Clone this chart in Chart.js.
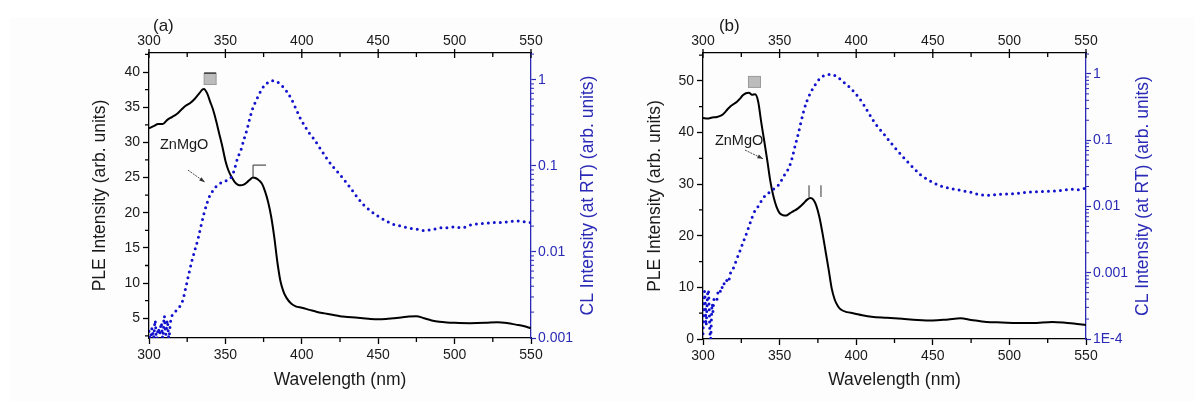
<!DOCTYPE html>
<html>
<head>
<meta charset="utf-8">
<script src="https://cdn.jsdelivr.net/npm/chart.js@4.4.0/dist/chart.umd.min.js"></script>
<style>
  html, body { margin: 0; padding: 0; background: #fff; }
  body { width: 1195px; height: 401px; position: relative; overflow: hidden; }
  #bg { position: absolute; left: 10px; top: 17px; right: 0; bottom: 0; background: #fdfdfd; }
  canvas { position: absolute; top: 0; }
  #chartA { left: 86px; }
  #chartB { left: 641px; }
</style>
</head>
<body>
<div id="bg"></div>
<canvas id="chartA" width="515" height="401"></canvas>
<canvas id="chartB" width="514" height="401"></canvas>
<script>
// shared wavelength axis
const wavelengthTicks = [300, 350, 400, 450, 500, 550]
const wavelengthMinor = [325, 375, 425, 475, 525]

// panel (a)
const pleWlA = [300, 303, 306, 309, 312, 315, 318, 321, 324, 327, 330, 333, 335, 336, 338, 340, 342, 344, 346, 348, 350, 352, 354, 356, 358, 360, 362, 364, 366, 368, 370, 372, 374, 376, 378, 380, 382, 384, 386, 388, 390, 393, 396, 400, 405, 410, 415, 420, 425, 430, 435, 440, 445, 450, 455, 460, 465, 470, 475, 480, 485, 490, 495, 500, 510, 520, 528, 535, 540, 545, 550]
const pleA = [32.0, 32.3, 32.6, 32.6, 33.2, 33.6, 34.0, 34.6, 35.2, 35.6, 36.2, 37.0, 37.5, 37.6, 37.0, 35.8, 34.6, 33.0, 31.2, 29.4, 27.4, 26.0, 25.1, 24.4, 24.0, 23.9, 24.0, 24.3, 24.7, 25.0, 24.9, 24.6, 24.1, 23.0, 21.5, 19.4, 16.5, 13.0, 10.3, 8.8, 7.9, 7.1, 6.7, 6.5, 6.2, 5.9, 5.7, 5.5, 5.3, 5.2, 5.1, 5.0, 4.9, 4.85, 4.9, 5.0, 5.1, 5.25, 5.3, 5.0, 4.7, 4.5, 4.4, 4.35, 4.3, 4.35, 4.45, 4.3, 4.1, 3.9, 3.6]
const clWlA = [300, 301, 302, 303, 304, 305, 306, 307, 308, 309, 310, 311, 312, 313, 314, 315, 316, 318, 320, 322, 324, 326, 328, 330, 332, 334, 336, 338, 340, 342, 344, 346, 348, 350, 352, 354, 356, 358, 360, 362, 364, 366, 368, 370, 372, 374, 376, 378, 380, 382, 384, 386, 388, 390, 393, 396, 399, 402, 405, 408, 412, 416, 420, 424, 428, 432, 436, 440, 445, 450, 455, 460, 465, 470, 475, 480, 485, 490, 495, 500, 505, 510, 515, 520, 525, 530, 535, 540, 545, 550]
const clA = [0.0012, 0.0009, 0.0013, 0.0010, 0.0016, 0.0009, 0.0013, 0.0011, 0.0015, 0.0010, 0.0018, 0.0011, 0.0016, 0.0010, 0.0015, 0.0018, 0.0019, 0.0021, 0.0023, 0.0027, 0.0038, 0.0055, 0.0078, 0.0105, 0.0140, 0.020, 0.028, 0.037, 0.046, 0.052, 0.058, 0.062, 0.065, 0.067, 0.070, 0.075, 0.092, 0.125, 0.15, 0.20, 0.26, 0.36, 0.475, 0.57, 0.68, 0.79, 0.88, 0.94, 0.98, 0.98, 0.95, 0.89, 0.82, 0.74, 0.61, 0.47, 0.36, 0.29, 0.24, 0.205, 0.16, 0.125, 0.100, 0.083, 0.068, 0.055, 0.044, 0.036, 0.030, 0.026, 0.023, 0.021, 0.020, 0.019, 0.0185, 0.0178, 0.0182, 0.0190, 0.0192, 0.0195, 0.0192, 0.0205, 0.0212, 0.0215, 0.022, 0.022, 0.0225, 0.023, 0.0225, 0.022]
const pleTicksA = [5, 10, 15, 20, 25, 30, 35, 40]
const pleMinorA = [2.5, 7.5, 12.5, 17.5, 22.5, 27.5, 32.5, 37.5, 42.5]
const clTicksA = [0.001, 0.01, 0.1, 1]
const clLabelsA = ['0.001', '0.01', '0.1', '1']

// panel (b)
const pleWlB = [300, 303, 306, 309, 312, 314, 316, 318, 320, 322, 324, 326, 328, 330, 332, 334, 336, 338, 340, 342, 344, 346, 348, 350, 352, 354, 356, 358, 360, 362, 364, 366, 368, 370, 372, 374, 376, 378, 380, 382, 384, 386, 388, 390, 394, 398, 404, 410, 420, 430, 440, 450, 460, 468, 475, 485, 495, 505, 515, 528, 535, 542, 550]
const pleB = [42.8, 42.7, 42.9, 43.0, 43.3, 43.8, 44.5, 45.1, 45.5, 45.9, 46.5, 47.2, 47.6, 47.7, 47.3, 47.4, 46.0, 42.0, 38.3, 34.5, 30.5, 27.6, 25.6, 24.4, 24.0, 23.9, 24.2, 24.6, 24.9, 25.3, 25.8, 26.4, 27.0, 27.3, 27.0, 25.8, 23.6, 20.5, 17.0, 13.5, 9.8, 7.6, 6.4, 5.7, 5.2, 5.0, 4.6, 4.3, 4.1, 3.9, 3.7, 3.6, 3.8, 4.0, 3.7, 3.3, 3.2, 3.1, 3.1, 3.3, 3.2, 3.0, 2.7]
const clWlB = [300, 300.5, 301, 301.5, 302, 302.5, 303, 303.5, 304, 304.5, 305, 305.5, 306, 306.5, 307, 308, 309, 310, 311, 312, 313, 314, 315, 316, 317, 318, 320, 322, 324, 326, 328, 330, 332, 334, 336, 338, 340, 342, 344, 346, 348, 350, 352, 354, 356, 358, 360, 362, 364, 366, 368, 370, 372, 374, 376, 378, 380, 382, 384, 386, 388, 390, 393, 396, 399, 402, 405, 408, 411, 414, 418, 422, 426, 430, 434, 438, 442, 446, 450, 455, 460, 465, 470, 475, 480, 485, 490, 495, 500, 505, 510, 515, 520, 525, 530, 535, 540, 545, 550]
const clB = [1.2e-4, 3.0e-4, 5.2e-4, 3.5e-4, 1.6e-4, 2.8e-4, 4.8e-4, 5.5e-4, 3.0e-4, 1.3e-4, 1.0e-4, 2.0e-4, 3.4e-4, 2.6e-4, 3.8e-4, 4.2e-4, 3.9e-4, 5.3e-4, 5.0e-4, 6.2e-4, 5.8e-4, 7.0e-4, 6.8e-4, 8.5e-4, 8.0e-4, 1.0e-3, 1.2e-3, 1.6e-3, 2.1e-3, 2.8e-3, 3.7e-3, 5.0e-3, 6.8e-3, 8.7e-3, 0.0100, 0.0120, 0.0140, 0.0155, 0.0168, 0.0182, 0.020, 0.022, 0.027, 0.032, 0.038, 0.052, 0.080, 0.12, 0.19, 0.29, 0.40, 0.51, 0.62, 0.73, 0.84, 0.92, 0.96, 0.98, 0.99, 0.95, 0.89, 0.82, 0.71, 0.62, 0.52, 0.43, 0.34, 0.26, 0.20, 0.16, 0.125, 0.095, 0.074, 0.058, 0.046, 0.037, 0.030, 0.026, 0.023, 0.0205, 0.019, 0.018, 0.0172, 0.0163, 0.0152, 0.0148, 0.0150, 0.0153, 0.0155, 0.0158, 0.0162, 0.0166, 0.0168, 0.0170, 0.0172, 0.0175, 0.0182, 0.0178, 0.0190]
const pleTicksB = [0, 10, 20, 30, 40, 50]
const pleMinorB = [5, 15, 25, 35, 45, 55]
const clTicksB = [1e-4, 0.001, 0.01, 0.1, 1]
const clLabelsB = ['1E-4', '0.001', '0.01', '0.1', '1']

const FONT = 'Arial, "Liberation Sans", sans-serif'
const BLUE = '#1212cc'
const AXIS_BLUE = '#2a2ab6'
const INK = '#1a1a1a'

function toXY(xs, ys) {
    return xs.map((x, i) => ({ x: x, y: ys[i] }))
}

function logMinor(min, max) {
    let out = []
    for (let d = min; d <= max; d *= 10) {
        for (let m = 2; m <= 9; m++) {
            if (m * d <= max) out.push(m * d)
        }
    }
    return out
}

// minor ticks, top-axis ticks, right title and the small annotations
function extrasPlugin(o) {
    return {
        id: 'extras',
        afterDraw(chart) {
            let ctx = chart.ctx
            let a = chart.chartArea
            let sx = chart.scales.x
            let sy = chart.scales.y
            let s2 = chart.scales.y2
            let px = v => sx.getPixelForValue(v)
            let py = v => sy.getPixelForValue(v)

            ctx.save()
            ctx.lineWidth = 1.3
            ctx.strokeStyle = '#000'
            ctx.beginPath()
            for (let v of wavelengthMinor) {
                ctx.moveTo(px(v), a.bottom); ctx.lineTo(px(v), a.bottom + 4)
                ctx.moveTo(px(v), a.top); ctx.lineTo(px(v), a.top + 4)
            }
            for (let v of wavelengthTicks) {
                ctx.moveTo(px(v), a.top - 4); ctx.lineTo(px(v), a.top + 5)
            }
            for (let v of o.pleMinor) {
                if (v > sy.max) continue
                ctx.moveTo(a.left, py(v)); ctx.lineTo(a.left - 4, py(v))
            }
            ctx.stroke()

            ctx.strokeStyle = AXIS_BLUE
            ctx.lineWidth = 1
            ctx.beginPath()
            for (let v of logMinor(o.clMin, o.clMax)) {
                let y = s2.getPixelForValue(v)
                ctx.moveTo(a.right, y); ctx.lineTo(a.right + 3, y)
            }
            ctx.stroke()

            // right axis title, reading bottom to top
            ctx.fillStyle = AXIS_BLUE
            ctx.font = '17.5px ' + FONT
            ctx.textAlign = 'center'
            ctx.textBaseline = 'middle'
            ctx.translate(a.right + 57, (a.top + a.bottom) / 2)
            ctx.rotate(-Math.PI / 2)
            ctx.fillText('CL Intensity (at RT) (arb. units)', 0, 0)
            ctx.restore()

            ctx.save()
            ctx.fillStyle = INK
            ctx.textAlign = 'left'
            ctx.textBaseline = 'middle'
            ctx.font = '17px ' + FONT
            ctx.fillText(o.tag.text, px(o.tag.x), py(o.tag.y))
            ctx.font = '14.5px ' + FONT
            ctx.fillText('ZnMgO', px(o.name.x), py(o.name.y))

            // grey square marker
            let cx = px(o.square.x), cy = py(o.square.y)
            ctx.fillStyle = '#bcbcbc'
            ctx.fillRect(cx - 6, cy - 5.5, 12, 11)
            ctx.strokeStyle = '#9a9a9a'
            ctx.lineWidth = 1
            ctx.strokeRect(cx - 6, cy - 5.5, 12, 11)
            if (o.square.bar) {
                ctx.strokeStyle = '#222'
                ctx.lineWidth = 1.3
                ctx.beginPath()
                ctx.moveTo(cx - 6, cy - 6); ctx.lineTo(cx + 6, cy - 6)
                ctx.stroke()
            }

            // bracket / tick marks
            ctx.strokeStyle = '#555'
            ctx.lineWidth = 1.2
            ctx.beginPath()
            for (let s of o.marks) {
                ctx.moveTo(px(s[0]), py(s[1]))
                ctx.lineTo(px(s[2]), py(s[3]))
            }
            ctx.stroke()

            // arrow
            let x1 = px(o.arrow[0]), y1 = py(o.arrow[1])
            let x2 = px(o.arrow[2]), y2 = py(o.arrow[3])
            let ang = Math.atan2(y2 - y1, x2 - x1)
            ctx.strokeStyle = '#333'
            ctx.fillStyle = '#333'
            ctx.lineWidth = 0.9
            ctx.setLineDash([2, 1])
            ctx.beginPath()
            ctx.moveTo(x1, y1); ctx.lineTo(x2, y2)
            ctx.stroke()
            ctx.setLineDash([])
            ctx.beginPath()
            ctx.moveTo(x2, y2)
            ctx.lineTo(x2 - 6 * Math.cos(ang - 0.35), y2 - 6 * Math.sin(ang - 0.35))
            ctx.lineTo(x2 - 6 * Math.cos(ang + 0.35), y2 - 6 * Math.sin(ang + 0.35))
            ctx.closePath()
            ctx.fill()
            ctx.restore()
        }
    }
}

function makePanel(canvas, o) {
    let tickFont = { family: FONT, size: 14 }
    let titleFont = { family: FONT, size: 17.5 }
    return new Chart(canvas, {
        type: 'line',
        data: {
            datasets: [{
                label: 'CL',
                data: toXY(o.clWl, o.cl),
                yAxisID: 'y2',
                order: 0,
                borderColor: BLUE,
                borderWidth: 3,
                borderDash: [0, 6],
                borderCapStyle: 'round',
                pointRadius: 0,
                cubicInterpolationMode: 'monotone'
            }, {
                label: 'PLE',
                data: toXY(o.pleWl, o.ple),
                yAxisID: 'y',
                order: 1,
                borderColor: '#000',
                borderWidth: 2,
                pointRadius: 0,
                cubicInterpolationMode: 'monotone'
            }]
        },
        options: {
            responsive: false,
            animation: false,
            layout: { padding: 0 },
            plugins: { legend: { display: false }, tooltip: { enabled: false } },
            scales: {
                x: {
                    type: 'linear', position: 'bottom', min: 300, max: 550,
                    afterBuildTicks: s => { s.ticks = wavelengthTicks.map(v => ({ value: v })) },
                    afterFit: s => { s.height = o.bottomH },
                    ticks: { font: tickFont, color: INK, padding: 3, maxRotation: 0 },
                    grid: { drawOnChartArea: false, tickLength: 6, tickColor: '#000', tickWidth: 1.3 },
                    border: { color: '#000', width: 1.3 },
                    title: { display: true, text: 'Wavelength (nm)', font: titleFont, color: INK, padding: { top: 4, bottom: 10 } }
                },
                x2: {
                    type: 'linear', position: 'top', min: 300, max: 550,
                    afterBuildTicks: s => { s.ticks = wavelengthTicks.map(v => ({ value: v })) },
                    afterFit: s => { s.height = 53 },
                    ticks: { font: tickFont, color: INK, padding: 3, maxRotation: 0 },
                    grid: { drawOnChartArea: false, drawTicks: false },
                    border: { color: '#000', width: 1.3 }
                },
                y: {
                    type: 'linear', position: 'left', min: o.pleMin, max: o.pleMax,
                    afterBuildTicks: s => { s.ticks = o.pleTicks.map(v => ({ value: v })) },
                    afterFit: s => { s.width = o.leftW },
                    ticks: { font: tickFont, color: INK, padding: 3 },
                    grid: { drawOnChartArea: false, tickLength: 6, tickColor: '#000', tickWidth: 1.3 },
                    border: { color: '#000', width: 1.3 },
                    title: { display: true, text: 'PLE Intensity (arb. units)', font: titleFont, color: INK, padding: { top: 4, bottom: 4 } }
                },
                y2: {
                    type: 'logarithmic', position: 'right', min: o.clMin, max: o.clMax,
                    afterBuildTicks: s => { s.ticks = o.clTicks.map(v => ({ value: v })) },
                    afterFit: s => { s.width = o.rightW },
                    ticks: { font: tickFont, color: AXIS_BLUE, padding: 2, callback: (v, i) => o.clLabels[i] },
                    grid: { drawOnChartArea: false, tickLength: 5, tickColor: AXIS_BLUE, tickWidth: 1.2 },
                    border: { color: AXIS_BLUE, width: 1.3 }
                }
            }
        },
        plugins: [extrasPlugin(o)]
    })
}

makePanel(document.getElementById('chartA'), {
    pleWl: pleWlA, ple: pleA, clWl: clWlA, cl: clA,
    pleMin: 2.2, pleMax: 42.7, pleTicks: pleTicksA, pleMinor: pleMinorA,
    clMin: 0.001, clMax: 2.06, clTicks: clTicksA, clLabels: clLabelsA,
    leftW: 63, rightW: 70, bottomH: 63,
    tag: { text: '(a)', x: 302.6, y: 46.5 },
    name: { x: 307.2, y: 29.6 },
    square: { x: 340, y: 39.0, bar: true },
    marks: [[368.1, 26.77, 376.6, 26.77], [368.1, 26.77, 368.1, 25.06]],
    arrow: [325.5, 26.06, 336.6, 24.35]
})

makePanel(document.getElementById('chartB'), {
    pleWl: pleWlB, ple: pleB, clWl: clWlB, cl: clB,
    pleMin: 0, pleMax: 55.4, pleTicks: pleTicksB, pleMinor: pleMinorB,
    clMin: 1e-4, clMax: 2.07, clTicks: clTicksB, clLabels: clLabelsB,
    leftW: 62, rightW: 69, bottomH: 62,
    tag: { text: '(b)', x: 310.4, y: 60.5 },
    name: { x: 307.8, y: 38.4 },
    square: { x: 333.6, y: 49.8, bar: false },
    marks: [[369.2, 29.8, 369.2, 27.5], [377.0, 29.8, 377.0, 27.5]],
    arrow: [327.4, 36.6, 339.2, 34.9]
})
</script>
</body>
</html>
